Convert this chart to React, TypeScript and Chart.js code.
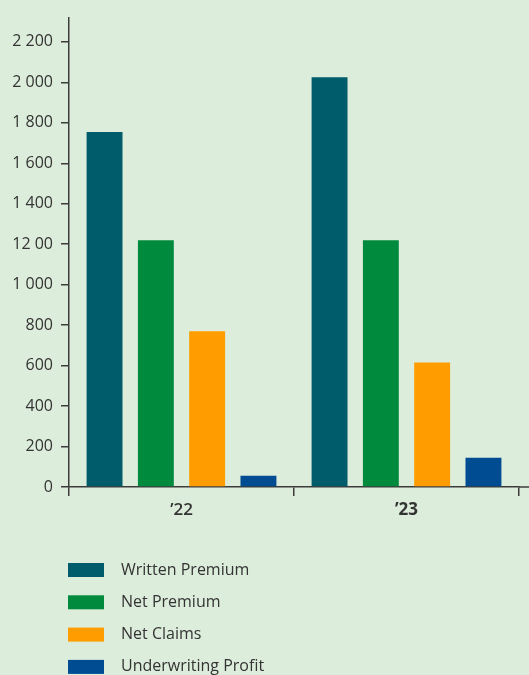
import React, { useEffect, useRef } from "react";
import { Chart, registerables } from "chart.js";

Chart.register(...registerables);

const categories = ["\u201922", "\u201923"];
const writtenPremium = [1755, 2025];
const netPremium = [1220, 1220];
const netClaims = [770, 615];
const underwritingProfit = [55, 145];
const seriesNames = ["Written Premium", "Net Premium", "Net Claims", "Underwriting Profit"];
const seriesColors = ["#005b6b", "#008a3e", "#ff9c00", "#004c93"];
const yTickValues = [0, 200, 400, 600, 800, 1000, 1200, 1400, 1600, 1800, 2000, 2200];
const yTickLabels = ["0", "200", "400", "600", "800", "1 000", "12 00", "1 400", "1 600", "1 800", "2 000", "2 200"];

const BG = "#ddeddb";
const TEXT = "#333333";
const AXIS = "#3c3c3c";
const FONT = "'Open Sans', 'Noto Sans', sans-serif";

export default function App() {
  const ref = useRef<HTMLCanvasElement | null>(null);

  useEffect(() => {
    document.body.style.margin = "0";
    document.body.style.background = BG;
    const canvas = ref.current;
    if (!canvas) return;

    const extras = {
      id: "extras",
      beforeDraw(chart: any) {
        const { ctx, width, height } = chart;
        ctx.save();
        ctx.fillStyle = BG;
        ctx.fillRect(0, 0, width, height);
        ctx.restore();
      },
      afterDraw(chart: any) {
        const { ctx, chartArea, width } = chart;
        const y0 = chart.scales.y.getPixelForValue(0);
        ctx.save();
        ctx.strokeStyle = AXIS;
        ctx.lineWidth = 1.5;
        ctx.beginPath();
        ctx.moveTo(chartArea.right, y0);
        ctx.lineTo(width, y0);
        ctx.stroke();
        // legend
        const ds = chart.data.datasets;
        ctx.font = `16px ${FONT}`;
        ctx.textBaseline = "middle";
        ctx.textAlign = "left";
        for (let i = 0; i < ds.length; i++) {
          const cy = 570 + i * 32.3;
          ctx.fillStyle = ds[i].backgroundColor;
          ctx.fillRect(68, cy - 7, 36, 14);
          ctx.fillStyle = TEXT;
          ctx.fillText(ds[i].label, 121, cy);
        }
        ctx.restore();
      },
    };

    const data = [writtenPremium, netPremium, netClaims, underwritingProfit];
    const chart = new Chart(canvas, {
      type: "bar",
      data: {
        labels: categories,
        datasets: data.map((d, i) => ({
          label: seriesNames[i],
          data: d,
          backgroundColor: seriesColors[i],
          borderWidth: 0,
          categoryPercentage: 0.912,
          barPercentage: 0.7,
        })),
      },
      options: {
        animation: false,
        responsive: false,
        devicePixelRatio: 1,
        layout: { padding: { top: 17, right: 10, left: 0, bottom: 148 } },
        plugins: { legend: { display: false }, tooltip: { enabled: false } },
        scales: {
          x: {
            grid: {
              display: true,
              drawOnChartArea: false,
              drawTicks: true,
              tickLength: 9,
              color: AXIS,
              lineWidth: 1.5,
              offset: true,
            },
            border: { display: true, color: AXIS, width: 1.5 },
            ticks: {
              color: TEXT,
              padding: 4,
              font: (c: any) => ({ family: FONT, size: 17, weight: c.index === 1 ? "bold" : "600" }),
            },
            afterFit: (s: any) => {
              s.height = 40;
            },
          },
          y: {
            min: 0,
            max: 2320,
            grid: {
              display: true,
              drawOnChartArea: false,
              drawTicks: true,
              tickLength: 8,
              color: AXIS,
              lineWidth: 1.5,
            },
            border: { display: true, color: AXIS, width: 1.5 },
            afterBuildTicks: (s: any) => {
              s.ticks = yTickValues.map((v) => ({ value: v }));
            },
            ticks: {
              color: TEXT,
              padding: 8,
              font: { family: FONT, size: 16 },
              callback: (v: any) => {
                const idx = yTickValues.indexOf(Number(v));
                return idx >= 0 ? yTickLabels[idx] : "";
              },
            },
            afterFit: (s: any) => {
              s.width = 69;
            },
          },
        },
      },
      plugins: [extras],
    });
    return () => chart.destroy();
  }, []);

  return <canvas ref={ref} width={529} height={675} style={{ display: "block" }} />;
}
